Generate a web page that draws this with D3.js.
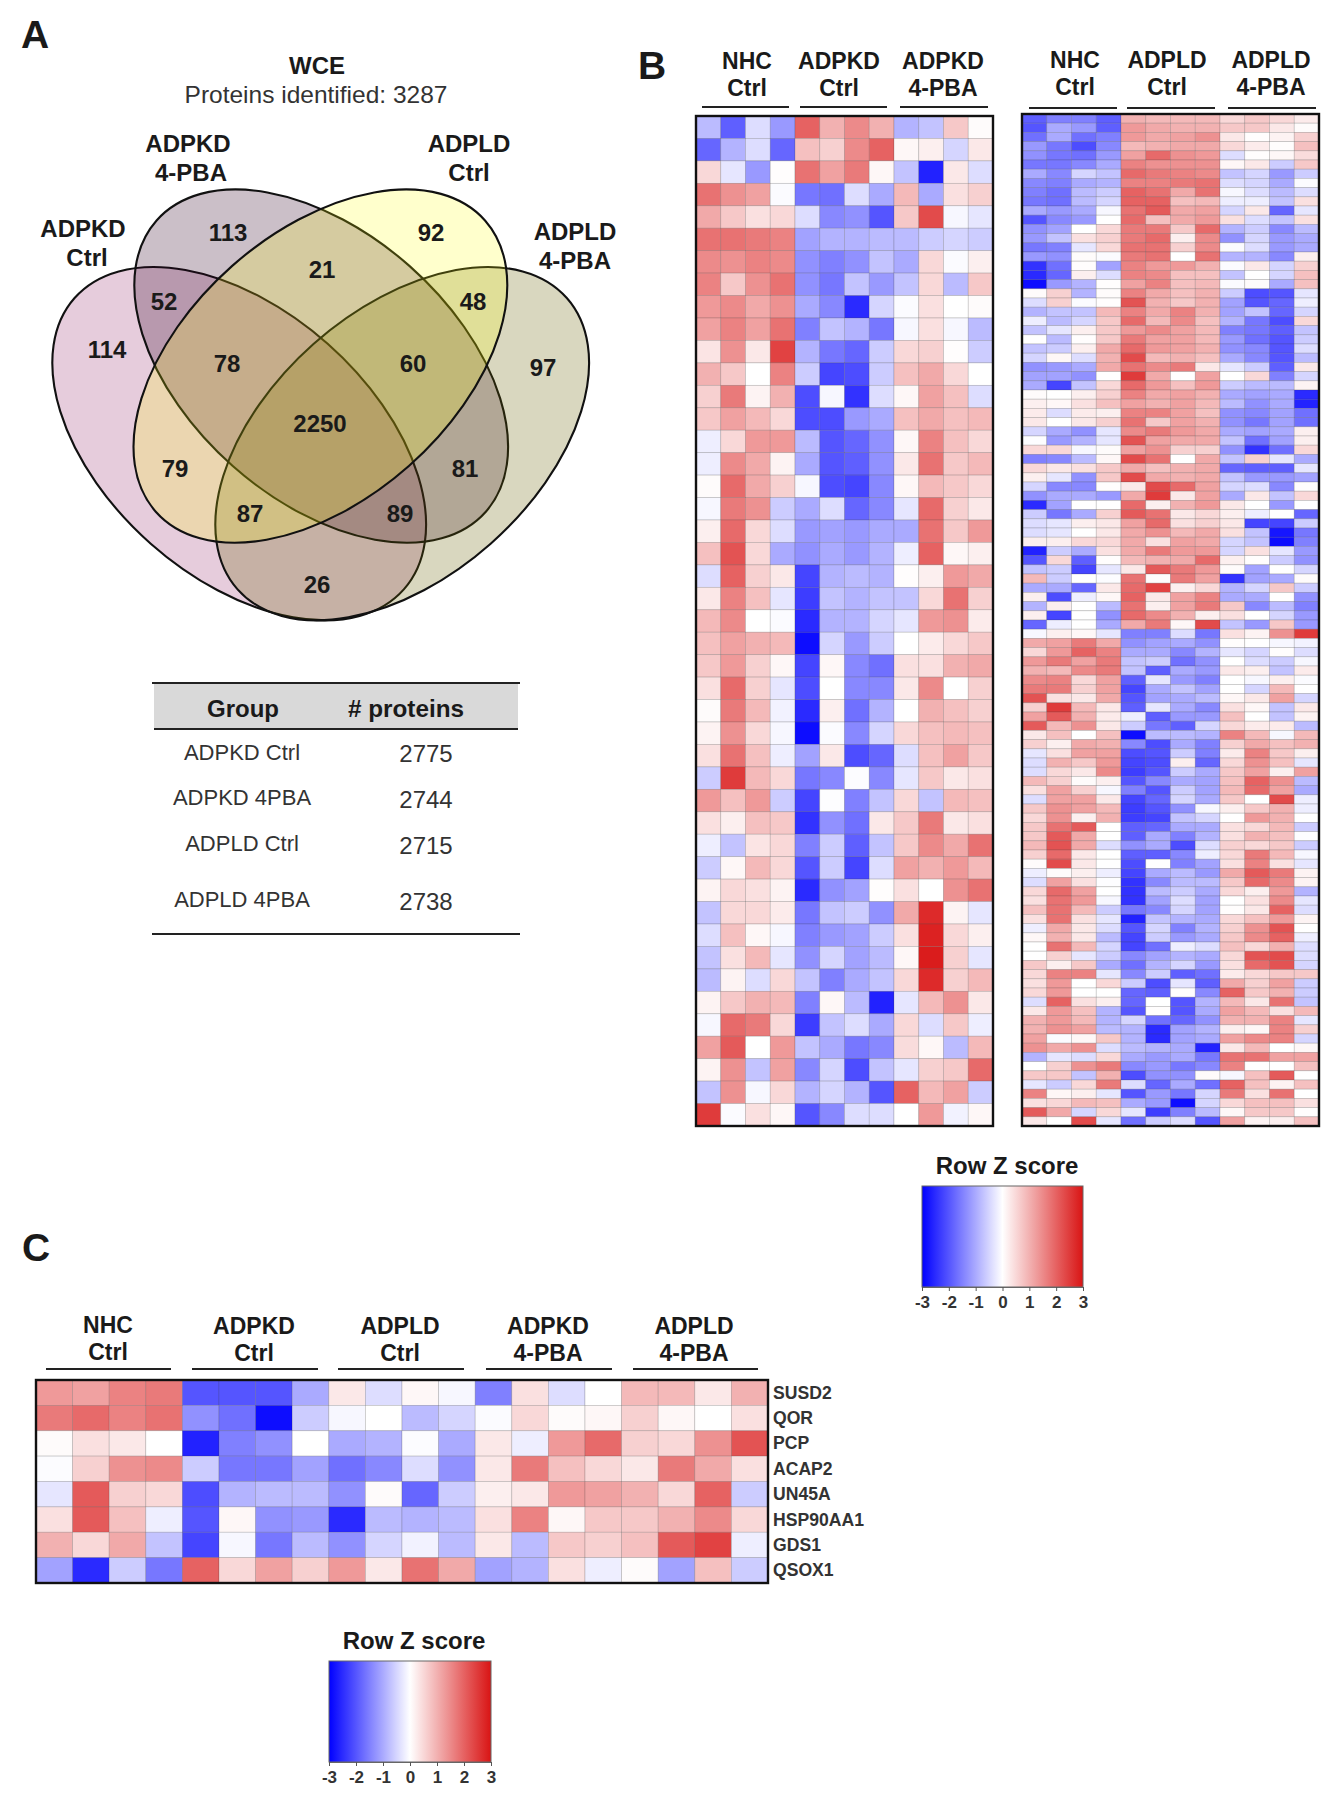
<!DOCTYPE html>
<html>
<head>
<meta charset="utf-8">
<script src="https://cdnjs.cloudflare.com/ajax/libs/d3/7.8.5/d3.min.js"></script>
<style>
  body { margin: 0; background: #fff; }
  text { font-family: "Liberation Sans", Arial, sans-serif; fill: #1a1a1a; }
</style>
</head>
<body>
<div id="chart-area"></div>
<script>
// venn panel
var vennCounts = [114, 113, 92, 97, 52, 21, 48, 78, 60, 2250, 79, 81, 87, 89, 26];
var vennSetLabels = [["ADPKD", "Ctrl"], ["ADPKD", "4-PBA"], ["ADPLD", "Ctrl"], ["ADPLD", "4-PBA"]];

// table under the venn
var tableGroups = ["ADPKD Ctrl", "ADPKD 4PBA", "ADPLD Ctrl", "ADPLD 4PBA"];
var tableProteins = [2775, 2744, 2715, 2738];

// column headers
var headersADPKD = [["NHC", "Ctrl"], ["ADPKD", "Ctrl"], ["ADPKD", "4-PBA"]];
var headersADPLD = [["NHC", "Ctrl"], ["ADPLD", "Ctrl"], ["ADPLD", "4-PBA"]];
var headersAll = [["NHC", "Ctrl"], ["ADPKD", "Ctrl"], ["ADPLD", "Ctrl"], ["ADPKD", "4-PBA"], ["ADPLD", "4-PBA"]];

var zTicks = [-3, -2, -1, 0, 1, 2, 3];

// row z scores
var heatADPKD = [
  [-.8,-1.9,-.4,-1.2,2,1,1.5,1,-.9,-.7,.7,.05],
  [-1.8,-.9,-.4,-1.8,.8,.6,1.5,2,.1,.2,-.5,.3],
  [.5,-.3,-1.2,.03,1.8,1.2,1.7,.1,-.7,-2.6,.3,-.4],
  [1.8,1.4,1.2,-.05,-1.6,-1.7,-.4,-1,.9,-1,.4,.6],
  [1.1,.7,.4,.5,-.4,-1.4,-1.3,-2,.7,2.3,-.1,-.3],
  [1.8,1.8,1.7,1.6,-1.1,-.9,-.9,-.8,-.8,-.6,-.5,-.6],
  [1.5,1.4,1.6,1.5,-1.3,-1.5,-1.3,-.7,-1,.5,-.05,.2],
  [1.6,.7,1.4,1.8,-1.3,-1.6,-.7,-1.2,-.7,.5,-.8,.7],
  [1.3,1.5,1.1,1.4,-1,-1.4,-2.5,-.5,-.05,.4,0,.05],
  [1.2,1.6,1.2,1.8,-1.5,-.7,-.9,-1.6,-.1,.4,-.1,-.8],
  [.35,1.4,.3,2.4,-.9,-1.6,-1.8,-.6,.5,.6,.03,-.6],
  [1,.7,0,1.6,-.6,-2.2,-2.1,-.6,.8,1.1,.5,0],
  [.6,1.7,.15,1,-2.1,-.1,-2.4,-.4,.1,1.2,.8,-.4],
  [.7,1.2,.9,.5,-2.1,-2.1,-1.2,-1,.8,1.1,.8,.9],
  [-.2,.5,1.3,1.3,-.8,-2,-1.8,-1.3,.1,1.6,.8,.5],
  [-.2,1.5,1.1,.15,-1,-2,-1.9,-1.3,.3,1.8,.7,.9],
  [.05,1.9,1.1,.6,-.1,-2.1,-2.2,-1.4,.1,.9,.7,.5],
  [-.1,1.7,1.4,-.6,-1,-.4,-1.8,-1.4,-.3,1.9,.6,.3],
  [.2,1.9,.5,-.4,-1.2,-1.1,-1.2,-1,-1,1.8,.7,1.3],
  [.8,2.2,.5,-1,-1.3,-1,-1.2,-.9,-.2,2,.1,.2],
  [-.4,2,.6,.3,-2.2,-.9,-.8,-.9,.03,.2,1.3,1.1],
  [.3,1.6,.8,-.3,-2.3,-.7,-.9,-.7,-.7,.5,1.8,.6],
  [.9,1.5,0,-.05,-2.5,-.9,-.9,-.5,-.3,1.3,1.4,.25],
  [.8,1.2,1,.9,-2.8,-.5,-1.2,-.6,0,.25,.5,.7],
  [.7,1.3,.6,.1,-2.2,.1,-1.4,-1.7,.4,.4,1,1.1],
  [.4,1.9,.6,-.3,-2.1,0,-1.4,-1.4,.3,1.5,0,.6],
  [.05,1.7,.9,-.15,-2.5,.2,-1.7,-.9,0,1,.8,.6],
  [.15,1.4,.5,-.1,-2.8,-.05,-1.4,-.5,.5,.8,.9,.8],
  [.4,1.8,.8,-.2,-1.1,.3,-2.1,-1.8,-.4,.8,1.2,.7],
  [-.6,2.5,.9,.5,-1.6,-1.4,-.03,-1.4,-.3,.7,.3,.4],
  [1.3,.8,1.3,-.6,-2.2,-.02,-1.5,-.7,.5,-.7,.9,.8],
  [.4,.2,.8,.7,-2.4,-1.3,-1.7,.3,.7,1.7,.3,.4],
  [-.2,-.7,.35,.5,-1.5,-.6,-1.9,-.7,.7,1.5,1.1,1.8],
  [-.6,.1,.9,.5,-2,-.6,-2.2,-.4,1.2,1,1.3,.9],
  [.15,.5,.4,.15,-2.5,-1.3,-1.1,.03,.4,0,1.4,1.8],
  [-.7,.5,.5,.25,-1.6,-.7,-.6,-1.3,1.1,2.7,.15,-.3],
  [-.4,.8,.1,-.1,-1.5,-1.2,-1.1,-.6,.4,2.8,.5,.2],
  [-.7,.4,.9,-.3,-1.3,-.5,-1.1,-.8,.1,2.9,.6,-.3],
  [-.8,.15,-.4,.5,-.7,-1.5,-1,-.7,.5,2.7,.6,.9],
  [.15,.7,1,.9,-1.5,.1,-.8,-2.6,-.3,.9,1.4,.3],
  [-.1,1.9,1.7,.5,-2.3,-.7,-.4,-1,.5,-.4,.7,-.2],
  [1.2,2.1,0,1.3,-.7,-1,-1.6,-1.4,.45,.1,-.8,.9],
  [.15,1.4,-.7,1.2,-1.4,-.5,-2.1,-.7,-.3,.6,.7,1.9],
  [-.7,1.4,-.1,.5,-.9,-.5,-.9,-2,2,.9,1.2,-.6],
  [2.5,-.05,.4,.1,-2,-1.4,-.4,-.4,0,1.3,-.15,.1]
];

var heatADPLD = [
  [-1.9,-1.5,-1.5,-1.9,1,.9,.9,.9,.5,.7,.5,.25],
  [-2,-1,-1.2,-1.9,1.3,1.1,1,1,.7,.7,.3,.05],
  [-1.7,-1,-1.7,-1.5,1.3,1.1,1.2,1.4,.3,.02,.15,.6],
  [-1.2,-1.6,-2.1,-1.4,.9,1,1.1,1.1,.5,.25,.02,.8],
  [-1.3,-1.6,-1.7,-1.2,1.2,1.9,1.4,1.3,-.4,.02,.1,.45],
  [-1.6,-1.6,-1.4,-1,1.6,1.4,1.4,1.4,.1,.3,-.6,.7],
  [-1,-1.4,-.5,-.7,1.9,1.7,1.6,1.5,-.7,-.5,-1.2,-.6],
  [-1.4,-1.5,-1,-.9,1.6,1.6,1.7,1.8,-.4,-.5,-1,-.05],
  [-1.5,-1.7,-.8,-.6,2,1.8,1.1,1.8,-.1,-.4,-.8,-.4],
  [-1.6,-1.7,-.8,-.5,2,2,.8,.9,-.2,-.2,-.7,.4],
  [-1,-1.2,-1,-.1,1.8,2.1,1.1,1.2,-.5,.3,-1.8,-.3],
  [-2,-1.4,-1.2,0,1.9,.8,1.1,1.3,.4,-.4,-.7,.4],
  [-1.3,-1.1,0,.5,1.7,1.7,.7,1.9,-.9,-.6,-1.4,-.8],
  [-1.2,-.7,.4,.6,1.7,1.9,.2,1.5,-1.3,-.5,-1.2,-1],
  [-1.6,-1.5,-.3,.5,1.8,1.8,.6,1.5,-.05,-.4,-1.2,-1],
  [-1.2,-1.3,.05,-.05,1.7,1.8,0,1.8,-.9,-.9,-1.4,.2],
  [-2.4,-1.7,.02,-1.1,1.6,1.3,1.3,1,-.05,.3,-.5,.6],
  [-2.5,-1.8,.2,-.4,1.6,1.5,.8,.8,-.7,0,-.5,.8],
  [-2.8,-1.2,-.9,.03,1.2,1.6,.8,.9,-.05,.05,-1,.8],
  [.05,.6,-.9,.05,1.6,1.1,.8,1,-.6,-2.1,-2,-.3],
  [-.4,.6,-.05,.02,2.2,1,.7,1,-1.1,-2,-1.8,-.2],
  [-.9,-.7,-.7,.9,1.6,1.1,1.6,1,-1.1,-.7,-1.8,-.5],
  [-.2,-.8,-.5,.7,1.9,.9,1.5,.8,-.9,-1.6,-2.1,.5],
  [-.7,-.3,.2,.7,1.3,1.5,1.2,.9,-1.5,-1.6,-1.9,-.7],
  [0,-.8,.03,.7,1.7,1.2,1.2,.9,-1.2,-1.7,-2,-.6],
  [-.7,-.6,.2,1.1,1.9,1.3,1.2,1,-1.3,-1.4,-2,-.4],
  [-.5,.1,-.4,1,2.3,.9,1,.8,-1,-1.4,-2,-.8],
  [-1.3,-1.2,-1,1.1,1.8,1.5,1.7,.3,-.3,-.6,-1.9,.3],
  [-1.1,-1.1,-1.3,0,2.5,1.1,0,1.2,0,.5,-1.5,-.5],
  [-1,-2.2,-.7,.5,1.9,1.3,.8,1.3,-.6,-.8,-.8,.15],
  [.05,0,.2,.6,1.6,1.1,1.2,1,-1,-1.1,-1,-2.5],
  [.2,.1,.4,.8,1.2,1,1.2,.9,-.8,-1.3,-1,-2.6],
  [.25,-.4,.25,.2,1.6,1.6,1.2,.8,-1.3,-1.4,-1.1,-1.7],
  [.3,0,.3,.6,1.8,.7,1.2,1,-1.3,-1.6,-1.1,-1.7],
  [-.5,-1,-1.3,-.3,1.5,1.7,1.3,1.1,-1,-1.1,-1,.2],
  [-.02,-1.2,-.9,-.3,2.2,1.2,1.1,1.1,-.7,-1.7,-1.1,.2],
  [.5,.5,-.1,.05,1.2,1.4,.6,.6,-1.3,-2.4,-1.7,.5],
  [-1.5,-1.4,-.8,.1,2.3,1.8,0,1.1,-.7,.6,-.3,-1],
  [.5,.3,.4,.7,1.1,.8,1,1.1,-1.8,-1.9,-1.9,-.3],
  [.2,-.3,-1.3,.7,2.3,1.1,1,1.1,-.7,-1.2,-1.2,-1.1],
  [-.5,-1.4,-1.4,.02,.3,2.3,1.9,1.2,-.5,-.4,-1.4,.03],
  [-1.3,-1,-1,-1.2,1.1,2.5,.3,1.2,-1,.3,-.7,.5],
  [-2.5,-1.1,0,0,1.9,.2,1,1.3,.3,0,-1.2,0],
  [-.6,-1.6,-1,.6,2.1,1.8,.3,.5,.2,-.2,0,-1.8],
  [-.4,-.3,.2,.3,1.2,1.9,.4,.6,.3,-2.2,-2.2,-.6],
  [-.4,-.3,0,.3,1.1,1.4,.9,1.1,.4,-.7,-2.7,-1.6],
  [.2,.2,.5,.5,1.1,.4,1.2,1.1,-.5,-.7,-2.8,-1.5],
  [-2.6,-.6,-1,.4,1.1,1.7,1.3,1.3,-.5,.4,-.3,-1.2],
  [-2,.5,-1.9,.02,.9,1,1.1,1.9,.2,.02,-.6,-1.3],
  [-.7,-.6,-2.2,-.3,.3,2.1,1.7,1.3,.05,-1.1,0,-.5],
  [.9,-.6,0,-.03,1.8,.05,1.7,1.2,-2.4,-1.1,-1,.05],
  [-1,-1,-1.8,.3,1.9,2.4,.2,.5,-.9,-.5,.7,-.6],
  [.2,-2.1,-.2,.1,2,.3,1.2,1.6,-1,-1,0,-1.3],
  [-.9,.2,0,-.8,1.8,.2,1.2,1.7,.7,-1.4,-.8,-1.5],
  [.2,-2.2,0,-1.3,1.9,1.5,1,.2,.4,0,-.5,-1.2],
  [-1.8,-.2,0,-1,1.1,1.7,.1,2.3,-.7,-1.2,.7,-1.2],
  [-.1,.2,.1,-.3,-1.5,-1.5,-.4,-1.6,.4,.15,1.4,2.5],
  [1.1,1.2,1.7,1.1,-1.3,-1.1,-1,-1.3,.03,0,-.1,-.15],
  [.5,1.3,2,1.6,-1,-1,-1.4,-.9,-.3,-.5,.02,-.4],
  [1.3,1.7,1.2,1.7,-.7,-.6,-1.7,-1.3,0,-.4,-.6,-.1],
  [1,.9,1.5,1.7,-.7,-1.9,-1,-1.2,.3,.2,-.7,.25],
  [1.5,1.6,.5,1.2,-1.9,-.3,-1.2,-1.5,0,-.1,.2,-.05],
  [1.7,1.7,.6,1.2,-2.2,-1,-.7,-1.1,0,-.5,.9,0],
  [2.2,.4,.3,1.1,-2,-1.1,-1,-.8,.1,.3,1.2,-.5],
  [.6,2.5,.9,.3,-1.9,-.3,-1,-1.4,.4,.1,-.7,.3],
  [1.2,2.1,1,.25,-.2,-1.9,-1.2,-1.2,.8,0,-.7,.15],
  [2.1,.9,1.4,.3,-.6,-1.6,-1.9,-.5,.5,.25,.25,-.8],
  [.3,.8,0,.8,-2.8,-.8,-.8,-.9,1.6,.9,-.1,.9],
  [.6,.2,1.1,1,-1.4,-2.1,-1,-1.5,.6,1.1,.8,1],
  [-.3,.4,1.2,1.2,-2.1,-2,-.6,-1.5,.25,1.6,.7,.2],
  [-.4,1,.7,1.3,-2.2,-2.1,.2,-1.8,.5,1.4,.8,-.3],
  [-.4,.5,.3,1.5,-2.3,-2,-.6,-1,.7,1.2,.2,1.2],
  [.9,.6,.05,.2,-2,-1.4,-1,-1.1,.8,2,1.4,-.8],
  [.4,1.2,.6,-.1,-1.5,-2,-.6,-1.1,.9,1.9,1.2,-1],
  [-.4,1.2,1.2,.3,-2.2,-1.8,-.5,-1,.7,0,2.3,-.2],
  [.7,1.4,1.2,.9,-2.3,-2,-1.3,-.1,.2,.7,1,-.2],
  [.5,1.4,.2,1,-2.3,-2.2,-.7,-.5,0,1.3,1,0],
  [.7,1.8,2.1,0,-1.9,-1.8,-1,-1,.4,.5,.9,-.6],
  [.7,2.1,1.1,0,-1.9,-1,-1.5,-.9,.4,1,.8,-.02],
  [.9,2.2,1.1,-.4,-1.3,-1,-2.1,-.4,.6,.5,.7,-.6],
  [.6,1.9,.3,0,-1.9,-1.9,-1.4,-.2,.5,1.7,.9,-.1],
  [.05,2.3,.3,0,-2.1,0,-1.5,-1.1,.4,1.6,.4,-.3],
  [-.2,.05,.2,-.2,-2.2,-1,-.8,-1.2,1.1,2.1,1.7,.15],
  [-.4,1.2,.4,-.02,-2.4,-1.4,-.8,-.8,.7,1.9,1.5,.15],
  [.5,1.9,1.2,0,-2.4,-.8,-.6,-1,.5,.2,1.3,-.9],
  [.4,1.8,1.3,-.1,-2.4,-1.1,-.4,-1.1,0,.4,1.5,-.3],
  [.8,1.8,.9,-.6,-1.6,-1.4,-.5,-1.1,.02,.3,2,-.4],
  [.4,1.8,.4,-.3,-2.6,-.7,-.9,-1,.5,.8,1.3,.15],
  [-.2,1.1,.3,-.4,-2,-.5,-1.5,-.9,.6,1.4,2.2,0],
  [.1,1,.3,-.8,-2.2,-.6,-1.2,-1,.7,1.5,2,-.2],
  [0,1.8,.9,-.5,-2.2,-1.7,-.2,-.4,.8,.5,1,-.4],
  [0,.6,-.3,-.6,-1.4,-1.1,-.9,-1,.5,2.2,2.3,-.4],
  [.7,.2,.7,-1,-1.7,-.9,-.5,-1.2,.4,1.9,2.2,-.5],
  [.5,1.6,1.6,-.3,-1.4,-.6,-1.9,-1.7,.25,.5,.7,.7],
  [.4,1.3,0,.5,-.6,-2.1,-.3,-1.9,1.1,.6,1.2,-.6],
  [.5,1.3,0,0,-1.8,-1.9,.02,-1.4,2,.7,1,-.6],
  [-.4,2,.4,.2,-1.8,0,-2,-.9,.9,.3,1.8,-.7],
  [.3,1.3,.8,-.9,-2,.02,-2,-1,1.2,.9,.4,.9],
  [1,1.3,.9,-.9,-.5,-1.7,-1.8,-1.3,1,1,1.6,-.3],
  [1,1.4,1.2,-.8,-.9,-2.5,-1.1,-.9,.2,.1,1.6,.6],
  [1.2,-.05,.1,.7,-.9,-2.5,-1.1,-1,1.2,1.5,1.6,-.5],
  [1.4,1.1,1.4,-.4,-.8,-.9,-1,-2.6,.3,.9,0,.1],
  [-.9,-.3,-.4,.5,-1,-1.2,-1,-1.6,1.8,1.8,1.2,1.2],
  [0,.6,1.4,1.7,-1.4,-1.2,-1.6,-1.4,1.6,0,0,.8],
  [.7,.7,-.7,1,-2.1,-1.3,-1.3,.05,-.1,.8,2.1,0],
  [-.3,-.6,.5,1.7,-.4,-1.8,-1,-1.7,2,.8,.15,.8],
  [1.6,.1,.2,-.3,-2,-1.2,-1.6,-.5,1.7,.4,1.8,0],
  [.4,.5,.9,.8,-1,-1.2,-2.8,-.5,.5,.8,.8,.4],
  [2.1,1.1,-.5,.5,-.3,-2.3,-1.5,-.8,.1,.7,.7,.02],
  [.3,0,2.3,-.3,-1.7,-.6,-.4,-2,1.2,.15,.2,.8]
];

var genes = ["SUSD2", "QOR", "PCP", "ACAP2", "UN45A", "HSP90AA1", "GDS1", "QSOX1"];
var heatGenes = [
  [1.3,1.2,1.6,1.7,-2,-2,-2,-1,.3,-.4,.1,-.1,-1.5,.4,-.4,0,.9,.9,.3,1],
  [1.7,1.9,1.6,1.8,-1.3,-1.7,-2.9,-.6,-.1,0,-.8,-.5,-.05,.5,.05,.1,.6,.1,0,.4],
  [.05,.4,.3,0,-2.6,-1.5,-1.3,0,-1,-.9,-.03,-1,.3,-.2,1.3,1.9,.6,.5,1.4,2.2],
  [-.03,.6,1.4,1.5,-.6,-1.6,-1.6,-1.1,-1.7,-1.4,-.4,-1.3,.3,1.7,.8,.5,.3,1.7,1.1,.4],
  [-.3,2.1,.6,.5,-2.1,-.9,-.8,-.8,-1.3,.05,-1.8,-.6,.2,.3,1.3,1.2,1,.5,2,-.6],
  [.4,2.1,.8,-.2,-2,.1,-1.3,-1.2,-2.5,-.8,-.9,-.8,.4,1.6,.1,.7,.7,1,1.5,.5],
  [1,.5,1.1,-.7,-2.2,-.1,-1.6,-.8,-1.3,-.5,-.15,-.8,.3,-.8,.7,.6,.8,2.1,2.4,-.2],
  [-1.1,-2.5,-.6,-1.6,2,.5,1.2,.6,1.3,.3,1.8,1.1,-1.1,-.9,.4,-.2,.05,-1.1,.8,-.6]
];

var svg = d3.select("#chart-area").append("svg")
  .attr("width", 1333)
  .attr("height", 1800);

var color = d3.scaleLinear()
  .domain([-3, 0, 3])
  .range(["#0000ff", "#ffffff", "#d91414"]);

function label(x, y, str, size, weight, anchor) {
  return svg.append("text")
    .attr("x", x)
    .attr("y", y)
    .attr("text-anchor", anchor || "middle")
    .attr("dominant-baseline", "central")
    .attr("font-size", size)
    .attr("font-weight", weight || "bold")
    .text(str);
}

// panel letters
label(35, 34, "A", 39);
label(652, 65, "B", 39);
label(36, 1247, "C", 39);

// ---- A: venn ----
label(317, 65, "WCE", 24);
label(316, 94, "Proteins identified: 3287", 24.5, "normal").style("fill", "#333");

var vennShapes = [
  { cx: 239.2, cy: 443.7, angle: 41.5, fill: "rgba(128,0,80,.2)" },
  { cx: 321.2, cy: 366.1, angle: 41.5, fill: "rgba(48,0,36,.25)" },
  { cx: 402.2, cy: 443.7, angle: -41.5, fill: "rgba(104,96,0,.25)" },
  { cx: 320.4, cy: 366.1, angle: -41.5, fill: "rgba(255,255,0,.2)" }
];

svg.append("g").selectAll("ellipse").data(vennShapes).enter()
  .append("ellipse")
    .attr("rx", 219.8)
    .attr("ry", 133.5)
    .attr("transform", function(d) {
      return "translate(" + d.cx + "," + d.cy + ") rotate(" + d.angle + ")";
    })
    .attr("fill", function(d) { return d.fill; })
    .attr("stroke", "#111")
    .attr("stroke-width", 2.1);

var vennCountPos = [
  [107, 349], [228, 232], [431, 232], [543, 367], [164, 301],
  [322, 269], [473, 301], [227, 363], [413, 363], [320, 423],
  [175, 468], [465, 468], [250, 513], [400, 513], [317, 584]
];
vennCounts.forEach(function(d, i) {
  label(vennCountPos[i][0], vennCountPos[i][1], d, 24);
});

var vennLabelPos = [[83, 228], [188, 143], [469, 143], [575, 231]];
var vennLabelPos2 = [[87, 257], [191, 172], [469, 172], [575, 260]];
vennSetLabels.forEach(function(d, i) {
  label(vennLabelPos[i][0], vennLabelPos[i][1], d[0], 24);
  label(vennLabelPos2[i][0], vennLabelPos2[i][1], d[1], 24);
});

// ---- A: table ----
svg.append("rect").attr("x", 154).attr("y", 683).attr("width", 364).attr("height", 46).attr("fill", "#d9d9d9");
svg.append("line").attr("x1", 152).attr("x2", 520).attr("y1", 683).attr("y2", 683).attr("stroke", "#222").attr("stroke-width", 2);
svg.append("line").attr("x1", 154).attr("x2", 518).attr("y1", 729).attr("y2", 729).attr("stroke", "#222").attr("stroke-width", 2);
svg.append("line").attr("x1", 152).attr("x2", 520).attr("y1", 934).attr("y2", 934).attr("stroke", "#222").attr("stroke-width", 2);
label(243, 708, "Group", 24);
label(406, 708, "# proteins", 24.3);
var tableRowY = [752, 797, 843, 899];
var tableValueY = [753, 799, 845, 901];
tableGroups.forEach(function(d, i) {
  label(242, tableRowY[i], d, 22, "normal").style("fill", "#333");
  label(426, tableValueY[i], tableProteins[i], 24, "normal").style("fill", "#333");
});

// ---- heatmaps ----
var soft = svg.append("defs").append("filter").attr("id", "soft");
soft.append("feGaussianBlur").attr("stdDeviation", .5);

function heatmap(matrix, x0, x1, y0, y1) {
  var nCols = matrix[0].length;
  var x = d3.scaleBand().domain(d3.range(nCols)).range([x0, x1]);
  var y = d3.scaleBand().domain(d3.range(matrix.length)).range([y0, y1]);
  var g = svg.append("g");
  var cells = g.append("g").attr("filter", "url(#soft)");
  var rows = cells.selectAll("g").data(matrix).enter().append("g")
    .attr("transform", function(d, i) { return "translate(0," + y(i) + ")"; });
  rows.selectAll("rect").data(function(d) { return d; }).enter()
    .append("rect")
      .attr("x", function(d, i) { return x(i); })
      .attr("width", x.bandwidth())
      .attr("height", y.bandwidth())
      .attr("fill", function(d) { return color(d); })
      .attr("stroke", "rgba(70,70,70,.28)")
      .attr("stroke-width", .7);
  g.append("rect")
    .attr("x", x0)
    .attr("y", y0)
    .attr("width", x1 - x0)
    .attr("height", y1 - y0)
    .attr("fill", "none")
    .attr("stroke", "#111")
    .attr("stroke-width", 2.4);
}

function columnHeaders(headers, centers, bars, y1, y2, barY) {
  headers.forEach(function(h, i) {
    label(centers[i], y1[i], h[0], 23);
    label(centers[i], y2[i], h[1], 23);
    svg.append("line")
      .attr("x1", bars[i][0])
      .attr("x2", bars[i][1])
      .attr("y1", barY)
      .attr("y2", barY)
      .attr("stroke", "#222")
      .attr("stroke-width", 2.2);
  });
}

columnHeaders(headersADPKD, [747, 839, 943],
  [[702, 789], [800, 887], [900, 988]], [61, 61, 61], [88, 88, 88], 107);
heatmap(heatADPKD, 696, 993, 116, 1126);

columnHeaders(headersADPLD, [1075, 1167, 1271],
  [[1029, 1117], [1127, 1215], [1228, 1316]], [60, 60, 60], [87, 87, 87], 108);
heatmap(heatADPLD, 1022, 1319, 114, 1126);

columnHeaders(headersAll, [108, 254, 400, 548, 694],
  [[46, 171], [192, 318], [338, 464], [486, 612], [633, 758]],
  [1325, 1326, 1326, 1326, 1326], [1352, 1353, 1353, 1353, 1353], 1369);
heatmap(heatGenes, 36, 768, 1380, 1583);

var geneY = d3.scaleBand().domain(genes).range([1380, 1583]);
genes.forEach(function(d) {
  label(773, geneY(d) + geneY.bandwidth() / 2, d, 17.6, "bold", "start").style("fill", "#333");
});

// ---- colour keys ----
var defs = svg.append("defs");
var grad = defs.append("linearGradient").attr("id", "zgrad");
d3.range(-3, 3.01, .5).forEach(function(v) {
  grad.append("stop")
    .attr("offset", ((v + 3) / 6 * 100) + "%")
    .attr("stop-color", color(v));
});

function colorKey(x0, x1, y0, y1, titleX, titleY) {
  label(titleX, titleY, "Row Z score", 24);
  svg.append("rect")
    .attr("x", x0)
    .attr("y", y0)
    .attr("width", x1 - x0)
    .attr("height", y1 - y0)
    .attr("fill", "url(#zgrad)")
    .attr("stroke", "#666")
    .attr("stroke-width", 1);
  var zScale = d3.scaleLinear().domain([-3, 3]).range([x0, x1]);
  var axis = d3.axisBottom(zScale).tickValues(zTicks).tickSize(4).tickPadding(5)
    .tickFormat(function(d) { return String(d); });
  var ax = svg.append("g").attr("transform", "translate(0," + y1 + ")").call(axis);
  ax.select(".domain").attr("stroke", "#666");
  ax.selectAll(".tick line").attr("stroke", "#555");
  ax.selectAll(".tick text")
    .attr("font-size", 17)
    .attr("font-weight", "bold")
    .attr("font-family", "Liberation Sans")
    .style("fill", "#333");
}

colorKey(922, 1083, 1186, 1287, 1007, 1165);
colorKey(329, 491, 1661, 1762, 414, 1640);
</script>
</body>
</html>
